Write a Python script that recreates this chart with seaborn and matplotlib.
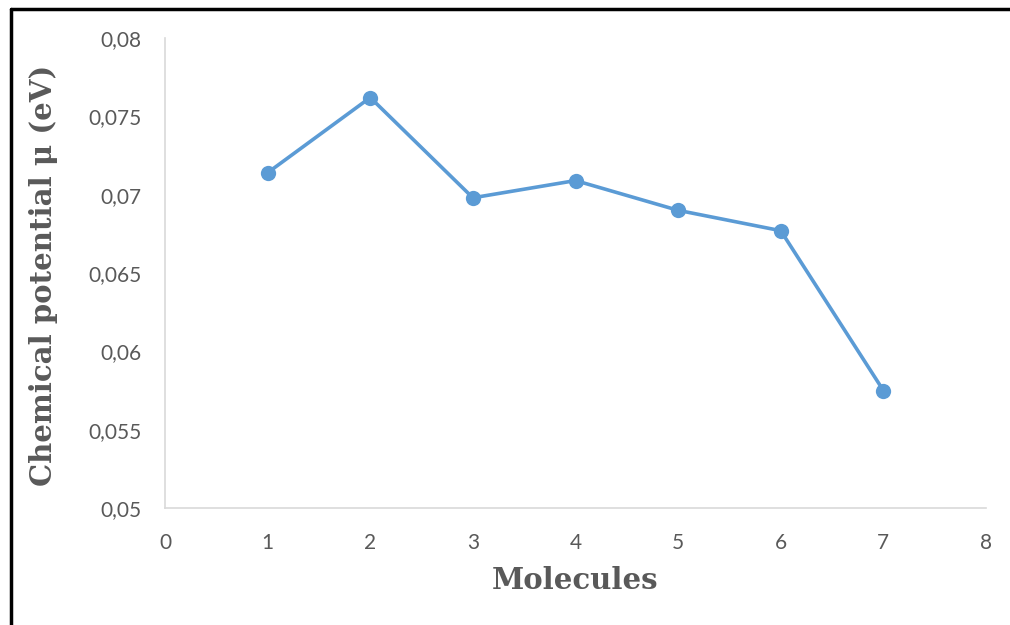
import matplotlib
matplotlib.use("Agg")
import matplotlib.pyplot as plt
import seaborn as sns
import pandas as pd
from matplotlib.ticker import FuncFormatter
from matplotlib.lines import Line2D

molecules = [1, 2, 3, 4, 5, 6, 7]
chemical_potential = [0.0714, 0.0762, 0.0698, 0.0709, 0.0690, 0.0677, 0.0575]
x_ticks = [0, 1, 2, 3, 4, 5, 6, 7, 8]
y_ticks = [0.05, 0.055, 0.06, 0.065, 0.07, 0.075, 0.08]

df = pd.DataFrame({"Molecules": molecules, "mu": chemical_potential})

sns.set_theme(style="white")
plt.rcParams['font.family'] = ['Lato', 'DejaVu Sans']

fig = plt.figure(figsize=(10.1, 6.25), dpi=100)
ax = fig.add_axes([165/1010, 1-508/625, (986-165)/1010, (508-38)/625])

sns.lineplot(data=df, x="Molecules", y="mu", ax=ax, color="#5B9BD5",
             linewidth=2.6, marker="o", markersize=11, markeredgewidth=0)

ax.set_xlim(0, 8)
ax.set_ylim(0.05, 0.08)
ax.set_xticks(x_ticks)
ax.set_yticks(y_ticks)

def fmt(v, pos):
    s = ("%.3f" % v).rstrip("0").rstrip(".")
    return s.replace(".", ",")

ax.yaxis.set_major_formatter(FuncFormatter(fmt))
ax.xaxis.set_major_formatter(FuncFormatter(lambda v, p: "%d" % v))
ax.tick_params(axis="both", labelsize=15, labelcolor="#595959", length=0)
ax.tick_params(axis="x", pad=18)
ax.tick_params(axis="y", pad=17)

for s in ["top", "right"]:
    ax.spines[s].set_visible(False)
for s in ["left", "bottom"]:
    ax.spines[s].set_color("#D9D9D9")
    ax.spines[s].set_linewidth(1.2)
ax.grid(False)

ax.set_xlabel("Molecules", fontsize=21, fontweight="bold", color="#595959",
              family="DejaVu Serif")
ax.set_ylabel("Chemical potential μ (eV)", fontsize=21, fontweight="bold",
              color="#595959", family="DejaVu Serif")
ax.xaxis.set_label_coords((575-165)/(986-165), -(566-508)/(508-38))
ax.yaxis.set_label_coords(-(165-58)/(986-165), (508-275)/(508-38))

# outer frame (top and left)
fig.add_artist(Line2D([11/1010, 1.0], [1-9/625, 1-9/625], transform=fig.transFigure,
                      color="black", linewidth=2.5))
fig.add_artist(Line2D([11/1010, 11/1010], [0, 1-9/625], transform=fig.transFigure,
                      color="black", linewidth=2.5))

fig.savefig("out.png", dpi=100, facecolor="white")
